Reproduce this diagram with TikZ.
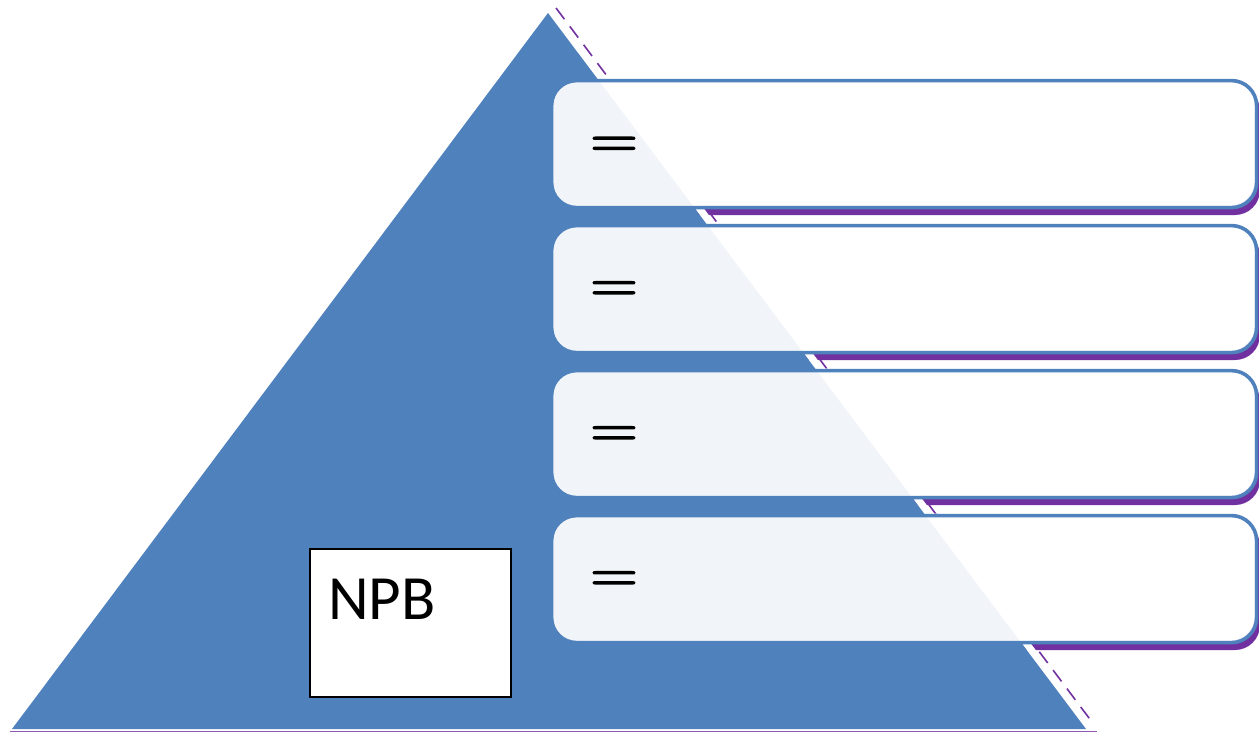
\documentclass[tikz,border=0pt]{standalone}
\usepackage{fontspec}
\usepackage{graphicx}
\newfontfamily\calib{Carlito}
\newfontfamily\eqfont[FakeBold=2.5]{Latin Modern Roman}
\definecolor{triblue}{HTML}{4F81BD}
\definecolor{shadowpurple}{HTML}{7030A0}
\begin{document}
\begin{tikzpicture}[x=1pt,y=-1pt,
  stepbox/.style={draw=triblue, line width=3.6pt, fill=white, fill opacity=0.92, rounded corners=25pt,
    minimum width=705pt, minimum height=127pt, anchor=north west, inner sep=0pt},
  eqs/.style={font=\eqfont\fontsize{57}{57}\selectfont, inner sep=0pt, anchor=base},
  npbbox/.style={draw=black, line width=2.2pt, fill=white, minimum width=201pt, minimum height=148pt, anchor=north west, inner sep=0pt},
  npbtext/.style={font=\calib\fontsize{63}{63}\selectfont, inner sep=0pt, anchor=base west}
]
\useasboundingbox (0,0) rectangle (1259,733);
% purple shadow traces of the triangle
\coordinate (pa) at (556,8);
\coordinate (pb) at (1092,722);
\draw[shadowpurple, line width=1.6pt, dash pattern=on 14pt off 9pt] (pa) -- (pb);
\coordinate (bl) at (10,731.5);
\coordinate (br) at (1097,731.5);
\draw[shadowpurple!80, line width=1.2pt] (bl) -- (br);
% box shadows, then opaque white under-boxes hiding their inside
\foreach \t in {77,222,367,512} {
  \fill[shadowpurple, rounded corners=25pt] (554,\t+9) rectangle ++(706,129);
}
\foreach \t in {77,222,367,512} {
  \fill[white, rounded corners=25pt] (549.5,\t+1.5) rectangle ++(705,127);
}
% white strip along the triangle's right edge
\fill[white] (548,13) -- (1086,729) -- (1095,729) -- (557,13) -- cycle;
% triangle
\coordinate (apex) at (548,13);
\coordinate (tl) at (12,729);
\coordinate (tr) at (1086,729);
\fill[triblue] (apex) -- (tr) -- (tl) -- cycle;
% boxes
\node[stepbox] (b1) at (549.8,78.8) {};
\node[stepbox] (b2) at (549.8,223.8) {};
\node[stepbox] (b3) at (549.8,368.8) {};
\node[stepbox] (b4) at (549.8,513.8) {};
% equal signs
\node[eqs] (e1) at (614,157.5) {\scalebox{1.15}[1]{=}};
\node[eqs] (e2) at (614,302) {\scalebox{1.15}[1]{=}};
\node[eqs] (e3) at (614,447) {\scalebox{1.15}[1]{=}};
\node[eqs] (e4) at (614,592) {\scalebox{1.15}[1]{=}};
% NPB box
\node[npbbox] (npb) at (309,548) {};
\node[npbtext] (npbt) at (328,619) {NPB};
\end{tikzpicture}
\end{document}
